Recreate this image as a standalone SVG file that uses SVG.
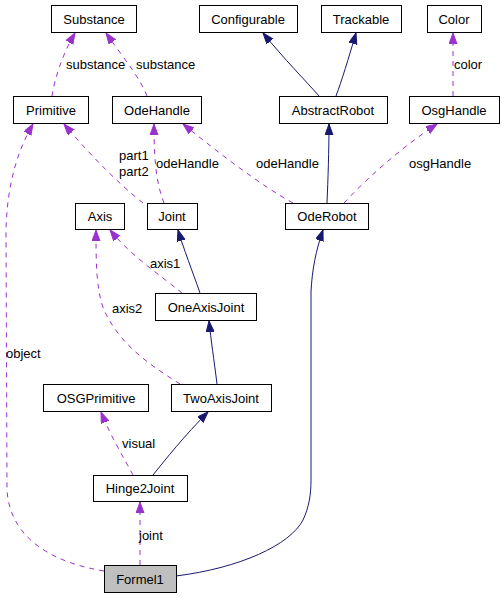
<svg xmlns="http://www.w3.org/2000/svg" width="502" height="597" viewBox="0 0 502 597">
<style>
.n rect{fill:#fff;stroke:#000;stroke-width:1}
.n text{font-family:"Liberation Sans",Arial,sans-serif;font-size:13px;text-anchor:middle;fill:#000}
.e path{fill:none;stroke-width:1}
.u{stroke:#9a32cd;stroke-dasharray:5,5;marker-end:url(#ap)}
.i{stroke:#191970;marker-end:url(#an)}
.l{font-family:"Liberation Sans",Arial,sans-serif;font-size:13px;fill:#000}
</style>
<defs>
<marker id="ap" markerUnits="userSpaceOnUse" markerWidth="12" markerHeight="9" refX="11" refY="4" orient="auto"><path d="M0,0 L11,4 L0,8 z" fill="#9a32cd" stroke="#9a32cd"/></marker>
<marker id="an" markerUnits="userSpaceOnUse" markerWidth="12" markerHeight="9" refX="11" refY="4" orient="auto"><path d="M0,0 L11,4 L0,8 z" fill="#191970" stroke="#191970"/></marker>
</defs>
<g id="edges" class="e">
<path class="u" d="M52,96 C55,78 62,55 75,33"/>
<path class="u" d="M147,96 C140,78 125,60 106,33"/>
<path class="u" d="M143,203 C120,185 90,155 64,124"/>
<path class="u" d="M164,203 C157,185 154,165 154,124"/>
<path class="u" d="M293,203 C260,185 215,150 183,124"/>
<path class="u" d="M344,203 C370,175 405,145 437,124"/>
<path class="u" d="M453,96 L453,33"/>
<path class="i" d="M319,96 C305,80 285,60 263,33"/>
<path class="i" d="M336,96 C342,80 348,60 356,33"/>
<path class="i" d="M327,203 C328,180 329,150 329,124"/>
<path class="i" d="M200,293 C192,270 184,250 178,230"/>
<path class="u" d="M182,293 C160,275 130,255 110,230"/>
<path class="i" d="M217,384 C214,360 211,340 209,321"/>
<path class="u" d="M180,384 C150,365 120,345 104,310 C96,290 96,260 96,230"/>
<path class="i" d="M153,475 C165,460 185,435 208,412"/>
<path class="u" d="M133,475 C125,460 110,435 101,412"/>
<path class="u" d="M140,565 L140,502"/>
<path class="u" d="M104,571 C55,563 10,540 7,490 L6,230 C7,190 15,155 33,124"/>
<path class="i" d="M176,576 C240,568 290,545 303,520 C309,507 311,495 311,480 L311,292 C312,270 316,250 323,230"/>
</g>
<g id="labels">
<text class="l" x="66" y="69">substance</text>
<text class="l" x="136" y="69">substance</text>
<text class="l" x="119" y="160">part1</text>
<text class="l" x="119" y="176">part2</text>
<text class="l" x="156" y="168">odeHandle</text>
<text class="l" x="256" y="168">odeHandle</text>
<text class="l" x="409" y="168">osgHandle</text>
<text class="l" x="454" y="69">color</text>
<text class="l" x="150" y="268">axis1</text>
<text class="l" x="112" y="313">axis2</text>
<text class="l" x="6" y="358">object</text>
<text class="l" x="122" y="448">visual</text>
<text class="l" x="139" y="540">joint</text>
</g>
<g id="Substance" class="n"><rect x="51.5" y="5.5" width="85" height="27"/><text x="94" y="24">Substance</text></g>
<g id="Configurable" class="n"><rect x="199.5" y="5.5" width="98" height="27"/><text x="248" y="24">Configurable</text></g>
<g id="Trackable" class="n"><rect x="321.5" y="5.5" width="80" height="27"/><text x="361" y="24">Trackable</text></g>
<g id="Color" class="n"><rect x="427.5" y="5.5" width="54" height="27"/><text x="454" y="24">Color</text></g>
<g id="Primitive" class="n"><rect x="13.5" y="96.5" width="75" height="27"/><text x="51" y="115">Primitive</text></g>
<g id="OdeHandle" class="n"><rect x="112.5" y="96.5" width="89" height="27"/><text x="157" y="115">OdeHandle</text></g>
<g id="AbstractRobot" class="n"><rect x="279.5" y="96.5" width="108" height="27"/><text x="333" y="115">AbstractRobot</text></g>
<g id="OsgHandle" class="n"><rect x="409.5" y="96.5" width="90" height="27"/><text x="454" y="115">OsgHandle</text></g>
<g id="Axis" class="n"><rect x="75.5" y="203.5" width="49" height="26"/><text x="100" y="221">Axis</text></g>
<g id="Joint" class="n"><rect x="147.5" y="203.5" width="50" height="26"/><text x="172" y="221">Joint</text></g>
<g id="OdeRobot" class="n"><rect x="285.5" y="203.5" width="83" height="26"/><text x="327" y="221">OdeRobot</text></g>
<g id="OneAxisJoint" class="n"><rect x="155.5" y="293.5" width="101" height="27"/><text x="206" y="312">OneAxisJoint</text></g>
<g id="OSGPrimitive" class="n"><rect x="43.5" y="384.5" width="105" height="27"/><text x="96" y="403">OSGPrimitive</text></g>
<g id="TwoAxisJoint" class="n"><rect x="171.5" y="384.5" width="100" height="27"/><text x="221" y="403">TwoAxisJoint</text></g>
<g id="Hinge2Joint" class="n"><rect x="93.5" y="475.5" width="94" height="26"/><text x="140" y="493">Hinge2Joint</text></g>
<g id="Formel1" class="n"><rect x="104.5" y="565.5" width="72" height="27" style="fill:#bfbfbf"/><text x="140" y="584">Formel1</text></g>
</svg>
